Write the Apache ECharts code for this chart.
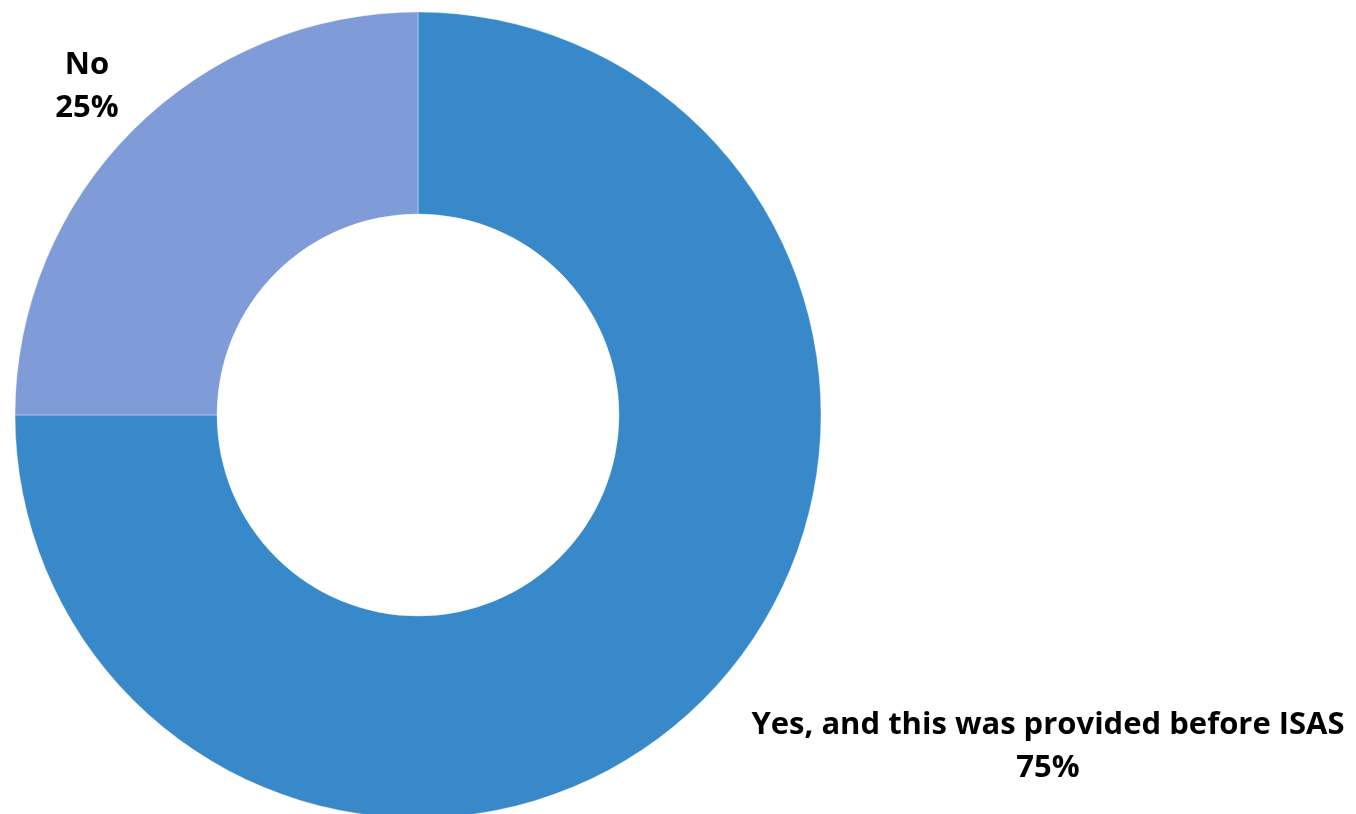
<!DOCTYPE html>
<html>
<head>
<meta charset="utf-8">
<script src="https://cdn.jsdelivr.net/npm/echarts@6/dist/echarts.min.js"></script>
<style>
  html, body { margin: 0; padding: 0; background: #fff; }
  #chart { width: 1356px; height: 814px; }
</style>
</head>
<body>
<div id="chart"></div>
<script>
// Answer categories and their shares (percent)
const categories = ['Yes, and this was provided before ISAS', 'No'];
const shares = [75, 25];
const colors = ['#3889C9', '#7F9CD9'];

// Where each two-line label sits (text centre)
const labelSpots = [
  { x: 1048, y: 747 },
  { x: 87, y: 87 }
];

const chart = echarts.init(document.getElementById('chart'), null, { renderer: 'canvas' });

chart.setOption({
  animation: false,
  series: [{
    type: 'pie',
    center: [418, 415],
    radius: [201, 403],
    startAngle: 90,
    clockwise: true,
    data: categories.map((name, i) => ({
      name: name,
      value: shares[i],
      itemStyle: { color: colors[i] }
    })),
    itemStyle: { borderColor: 'rgba(255,255,255,0.35)', borderWidth: 1 },
    label: {
      show: true,
      position: 'outside',
      formatter: '{b}\n{d}%',
      fontFamily: '"Open Sans", sans-serif',
      fontWeight: 'bold',
      fontSize: 31,
      lineHeight: 43,
      color: '#000',
      align: 'center'
    },
    labelLine: { show: false },
    labelLayout: function (p) {
      const s = labelSpots[p.dataIndex];
      return { x: s.x, y: s.y, align: 'center', verticalAlign: 'middle' };
    },
    emphasis: { disabled: true }
  }]
});
</script>
</body>
</html>
